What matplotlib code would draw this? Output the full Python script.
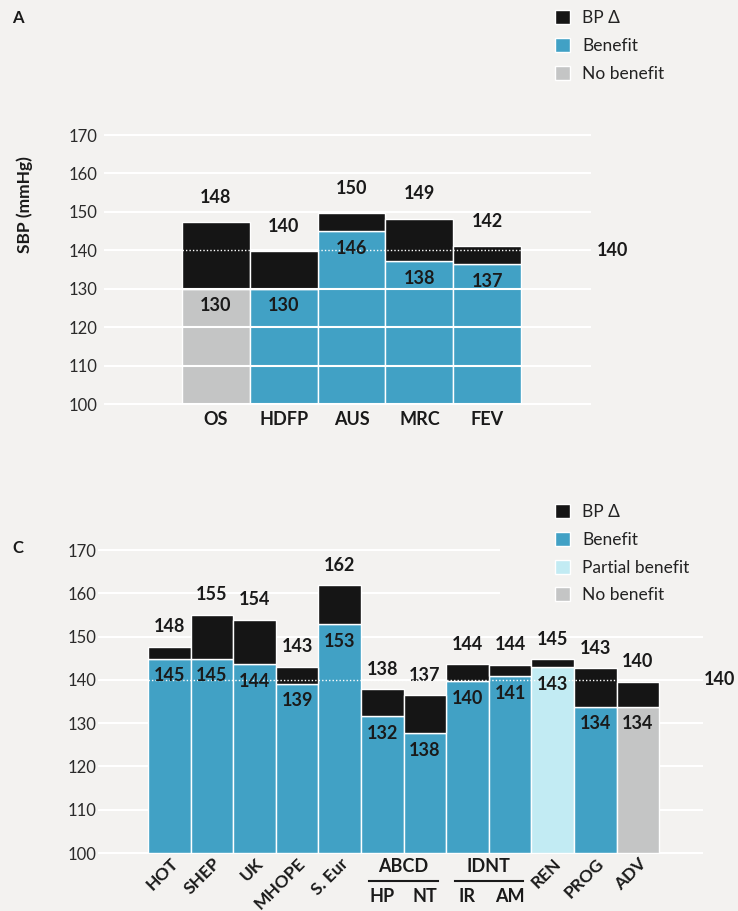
import numpy as np
import matplotlib.pyplot as plt
from matplotlib.patches import Patch

plt.rcParams['font.family'] = ['Lato', 'DejaVu Sans']

# panel A data
names_a = ['OS', 'HDFP', 'AUS', 'MRC', 'FEV']
base_a = [130, 130, 145, 137.2, 136.4]
top_a = [147.3, 139.8, 149.6, 148.2, 141.1]
toplab_a = ['148', '140', '150', '149', '142']
baselab_a = ['130', '130', '146', '138', '137']
kind_a = ['none', 'benefit', 'benefit', 'benefit', 'benefit']

# panel C data
names_c = ['HOT', 'SHEP', 'UK', 'MHOPE', 'S. Eur', 'HP', 'NT', 'IR', 'AM', 'REN', 'PROG', 'ADV']
base_c = [144.9, 144.9, 143.6, 139.1, 152.9, 131.6, 127.7, 139.7, 140.8, 142.9, 133.8, 133.8]
top_c = [147.6, 155.0, 153.9, 143.0, 161.9, 137.8, 136.4, 143.6, 143.5, 144.8, 142.7, 139.6]
toplab_c = ['148', '155', '154', '143', '162', '138', '137', '144', '144', '145', '143', '140']
baselab_c = ['145', '145', '144', '139', '153', '132', '138', '140', '141', '143', '134', '134']
kind_c = ['benefit'] * 9 + ['partial', 'benefit', 'none']
groups_c = [('ABCD', 5, 6), ('IDNT', 7, 8)]

yticks = [100, 110, 120, 130, 140, 150, 160, 170]

bg = '#f3f2f0'
black = '#151515'
cols = {'benefit': '#41a1c5', 'partial': '#c2ebf3', 'none': '#c4c5c5'}
txt = '#1a1a1a'
fs_b = 13

W, H = 738, 911
fig = plt.figure(figsize=(W / 100, H / 100), dpi=100)
fig.patch.set_facecolor(bg)


def add_ax(l, t, r, b):
    return fig.add_axes([l / W, 1 - b / H, (r - l) / W, (b - t) / H])


def panel(ax, base, top, kinds, toplab, baselab, xlim, grid_top, toff, grid_end):
    n = len(base)
    x = np.arange(n)
    base = np.array(base)
    top = np.array(top)
    ax.set_facecolor(bg)
    ax.set_xlim(xlim)
    ax.set_ylim(100, 170)
    for s in ax.spines.values():
        s.set_visible(False)
    ax.bar(x, base - 100, bottom=100, width=1, color=[cols[k] for k in kinds],
           edgecolor='white', linewidth=1, zorder=2)
    ax.bar(x, top - base, bottom=base, width=1, color=black,
           edgecolor='white', linewidth=1, zorder=2)
    for y in yticks:
        z = 3 if (grid_top and y != 140) else 1
        ax.hlines(y, xlim[0], grid_end.get(y, xlim[1]), colors='white', lw=1.5,
                  zorder=z, clip_on=False)
    ax.hlines(140, -0.5, n - 0.5, colors='white', linestyles=(0, (1, 1.5)), lw=1, zorder=4)
    for i in range(n):
        ax.annotate(toplab[i], (x[i], top[i]), xytext=(0, toff), textcoords='offset pixels',
                    ha='center', va='center', fontsize=fs_b, fontweight='bold', color=txt)
        ax.annotate(baselab[i], (x[i], base[i]), xytext=(0, -17), textcoords='offset pixels',
                    ha='center', va='center', fontsize=fs_b, fontweight='bold', color=txt, zorder=5)
    ax.set_yticks(yticks)
    ax.set_yticklabels([str(v) for v in yticks], fontsize=12, color='#2a2a2a')
    ax.tick_params(length=0)


# panel A
axA = add_ax(104, 135, 591, 404)
panel(axA, base_a, top_a, kind_a, toplab_a, baselab_a, (-1.65, 5.53), True, 25, {})
axA.tick_params(axis='y', pad=5)
axA.set_xticks(np.arange(len(names_a)))
axA.set_xticklabels(names_a, fontsize=fs_b, fontweight='bold', color=txt)
axA.tick_params(axis='x', pad=5)
axA.annotate('140', (1, 140), xycoords=('axes fraction', 'data'), xytext=(21, 0),
             textcoords='offset pixels', ha='center', va='center',
             fontsize=fs_b, fontweight='bold', color=txt)

# panel C
axC = add_ax(98, 550, 703, 853)
panel(axC, base_c, top_c, kind_c, toplab_c, baselab_c, (-1.674, 12.53), False, 20,
      {160: 7.76, 170: 7.76})
axC.tick_params(axis='y', pad=1)
axC.set_xticks([])
grouped = [i for g in groups_c for i in g[1:]]
for i, name in enumerate(names_c):
    if i in grouped:
        axC.annotate(name, (i, 0), xycoords=('data', 'axes fraction'), xytext=(0, -44),
                     textcoords='offset pixels', ha='center', va='center',
                     fontsize=fs_b, fontweight='bold', color=txt)
    else:
        axC.annotate(name, (i, 0), xycoords=('data', 'axes fraction'), xytext=(6, -8),
                     textcoords='offset pixels', ha='right', va='center', rotation=45,
                     rotation_mode='anchor', fontsize=12.5, fontweight='bold', color=txt)
for g, a, b in groups_c:
    axC.annotate(g, ((a + b) / 2, 0), xycoords=('data', 'axes fraction'), xytext=(0, -13),
                 textcoords='offset pixels', ha='center', va='center',
                 fontsize=fs_b, fontweight='bold', color=txt)
    yl = -28 / 303
    axC.plot([a - 0.3, b + 0.3], [yl, yl], color=txt, lw=1.5,
             transform=axC.get_xaxis_transform(), clip_on=False)
axC.annotate('140', (1, 140), xycoords=('axes fraction', 'data'), xytext=(17, 0),
             textcoords='offset pixels', ha='center', va='center',
             fontsize=fs_b, fontweight='bold', color=txt)

# panel letters and y label
fig.text(12 / W, 1 - 18 / H, 'A', fontsize=12, fontweight='bold', ha='left', va='center', color=txt)
fig.text(12 / W, 1 - 548 / H, 'C', fontsize=12, fontweight='bold', ha='left', va='center', color=txt)
fig.text(25 / W, 1 - 205 / H, 'SBP (mmHg)', rotation=90, fontsize=12.5, fontweight='bold',
         ha='center', va='center', color=txt)


def legend(keys, labels, top):
    handles = [Patch(facecolor=k, edgecolor='white', linewidth=1) for k in keys]
    fig.legend(handles, labels, loc='upper left', bbox_to_anchor=(555 / W, 1 - top / H),
               frameon=False, handlelength=0.86, handleheight=0.86, handletextpad=0.7,
               labelspacing=0.68, borderpad=0, borderaxespad=0, fontsize=12.5,
               labelcolor='#222222')


legend([black, cols['benefit'], cols['none']], ['BP Δ', 'Benefit', 'No benefit'], 10)
legend([black, cols['benefit'], cols['partial'], cols['none']],
       ['BP Δ', 'Benefit', 'Partial benefit', 'No benefit'], 504)

fig.savefig('out.png', dpi=100, facecolor=bg)
